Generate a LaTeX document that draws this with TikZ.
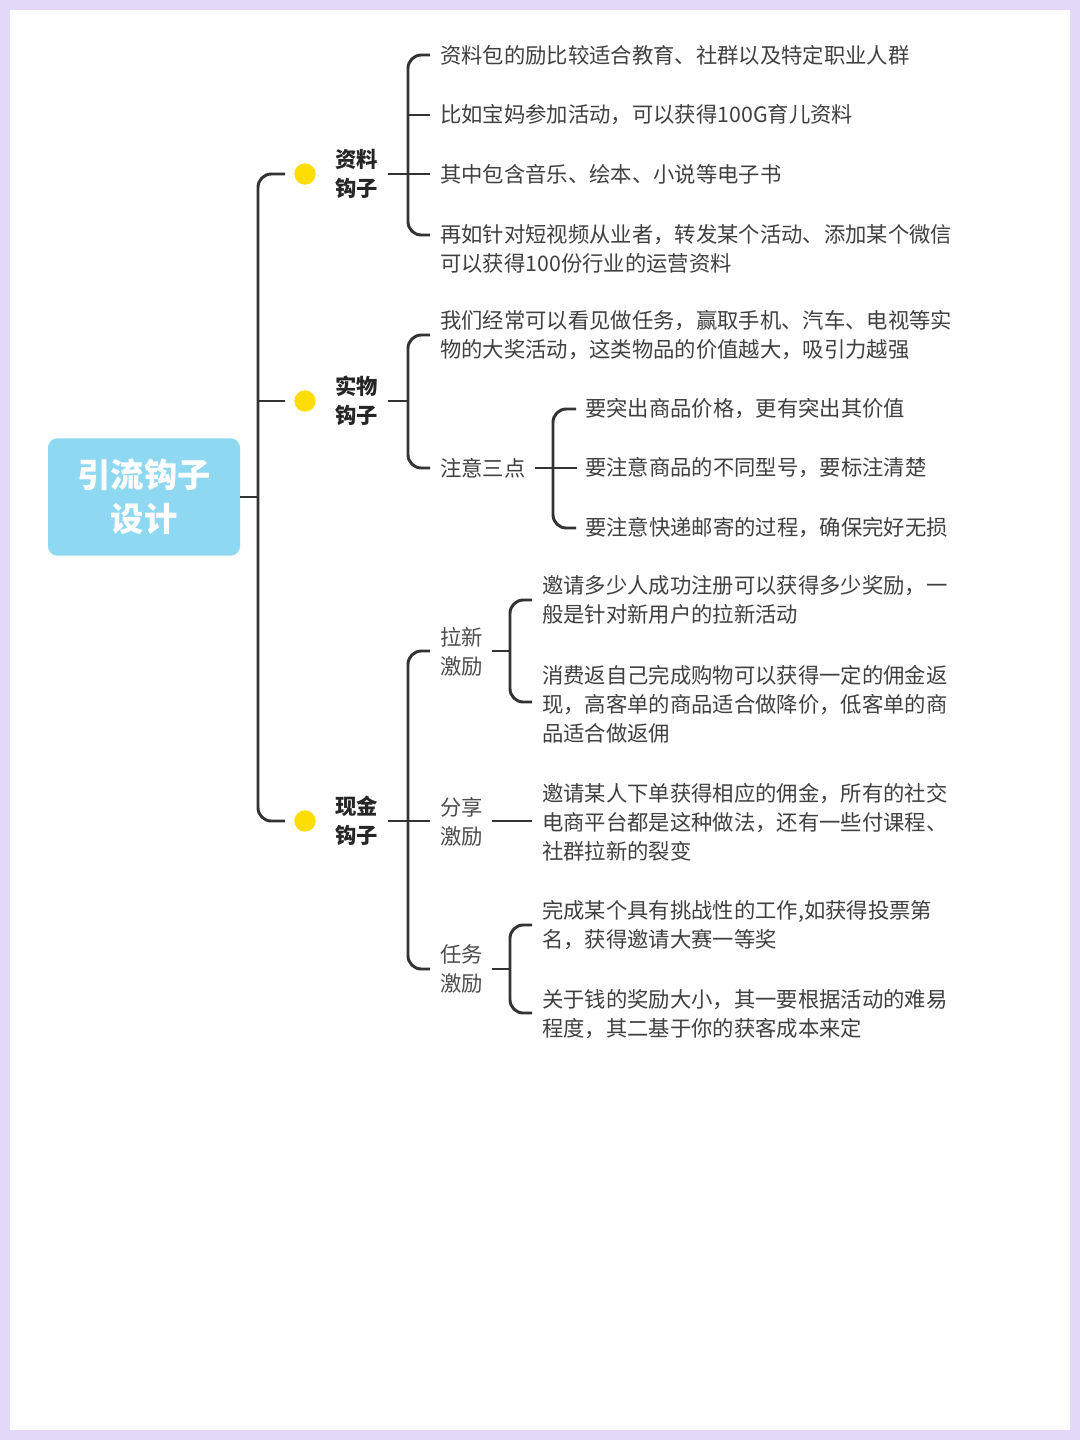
\documentclass[tikz,border=0pt]{standalone}
\usepackage{fontspec}
\setmainfont{Noto Sans CJK SC}
\begin{document}
\begin{tikzpicture}[x=0.75pt,y=-0.75pt,
  ln/.style={draw=black!80,line width=2.2pt,rounded corners=10pt},
  tx/.style={anchor=west,align=left,inner sep=0pt,font=\fontsize{16}{21.75}\selectfont,text=black!75},
  lb/.style={anchor=west,align=left,inner sep=0pt,font=\fontsize{16}{21.75}\selectfont\bfseries,text=black!85},
  lb2/.style={anchor=west,align=left,inner sep=0pt,font=\fontsize{16}{21.75}\selectfont,text=black!70},
  dot/.style={circle,fill=yellow!80!orange,minimum size=16pt,inner sep=0pt}]
\definecolor{lav}{HTML}{E3D9F7}
\definecolor{rootc}{HTML}{8ED8F2}
\fill[lav] (0,0) rectangle (1080,1440);
\fill[white] (10,10) rectangle (1070,1430);
\node[fill=rootc,rounded corners=7pt,minimum width=144pt,minimum height=88pt,text=white,align=center,font=\fontsize{25}{33}\selectfont\bfseries] (root) at (144,497) {引流钩子\\设计};
% level 1
\node[dot] (d1) at (305,174) {};
\node[dot] (d2) at (305,401) {};
\node[dot] (d3) at (305,821) {};
\node[lb] (l1) at (335,174) {资料\\钩子};
\node[lb] (l2) at (335,401) {实物\\钩子};
\node[lb] (l3) at (335,821) {现金\\钩子};
\coordinate (t) at (258,497);
\draw[ln] (root.east) -- (t);
\draw[ln] (t) |- (285,174);
\draw[ln] (t) |- (285,821);
\draw[ln,rounded corners=0pt] (258,401) -- (285,401);
% 资料
\node[tx] (a1) at (440,55) {资料包的励比较适合教育、社群以及特定职业人群};
\node[tx] (a2) at (440,115) {比如宝妈参加活动，可以获得100G育儿资料};
\node[tx] (a3) at (440,174) {其中包含音乐、绘本、小说等电子书};
\node[tx] (a4) at (440,249) {再如针对短视频从业者，转发某个活动、添加某个微信\\可以获得100份行业的运营资料};
\draw[ln,rounded corners=0pt] (388,174) -- ([xshift=-7.5pt]a3.west);
\draw[ln] (430,55) -| (408,235) -- (430,235);
\draw[ln,rounded corners=0pt] (408,115) -- (430,115);
% 实物
\node[tx] (b1) at (440,335) {我们经常可以看见做任务，赢取手机、汽车、电视等实\\物的大奖活动，这类物品的价值越大，吸引力越强};
\node[tx] (b2) at (440,468) {注意三点};
\draw[ln,rounded corners=0pt] (388,401) -- (408,401);
\draw[ln] (430,335) -| (408,468) -- ([xshift=-7.5pt]b2.west);
\node[tx] (c1) at (585,409) {要突出商品价格，更有突出其价值};
\node[tx] (c2) at (585,468) {要注意商品的不同型号，要标注清楚};
\node[tx] (c3) at (585,528) {要注意快递邮寄的过程，确保完好无损};
\draw[ln,rounded corners=0pt] ([xshift=7pt]b2.east) -- ([xshift=-6pt]c2.west);
\draw[ln] (576,409) -| (553,528) -- (576,528);
% 现金
\node[lb2] (e1) at (440,652) {拉新\\激励};
\node[lb2] (e2) at (440,822) {分享\\激励};
\node[lb2] (e3) at (440,969) {任务\\激励};
\draw[ln,rounded corners=0pt] (388,821) -- (430,821);
\draw[ln] (430,651) -| (408,969) -- (430,969);
\node[tx] (f1) at (542,600) {邀请多少人成功注册可以获得多少奖励，一\\般是针对新用户的拉新活动};
\node[tx] (f2) at (542,704) {消费返自己完成购物可以获得一定的佣金返\\现，高客单的商品适合做降价，低客单的商\\品适合做返佣};
\node[tx] (f3) at (542,822) {邀请某人下单获得相应的佣金，所有的社交\\电商平台都是这种做法，还有一些付课程、\\社群拉新的裂变};
\node[tx] (f4) at (542,925) {完成某个具有挑战性的工作,如获得投票第\\名，获得邀请大赛一等奖};
\node[tx] (f5) at (542,1014) {关于钱的奖励大小，其一要根据活动的难易\\程度，其二基于你的获客成本来定};
\draw[ln,rounded corners=0pt] (492,651) -- (510,651);
\draw[ln] (532,600) -| (510,702) -- (532,702);
\draw[ln,rounded corners=0pt] (492,821) -- (532,821);
\draw[ln,rounded corners=0pt] (492,969) -- (510,969);
\draw[ln] (532,925) -| (510,1013) -- (532,1013);
\end{tikzpicture}
\end{document}
